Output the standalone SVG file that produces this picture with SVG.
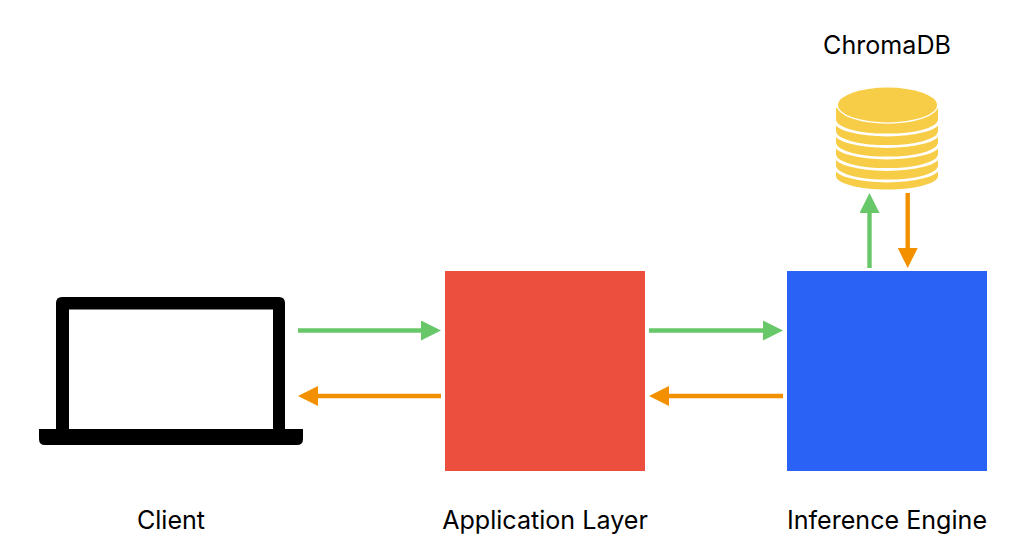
<svg xmlns="http://www.w3.org/2000/svg" width="1012" height="556" viewBox="0 0 1012 556">
<style>
text{font-family:Inter,"Liberation Sans",sans-serif;font-size:25.100px;fill:#000;text-anchor:middle}
.g{stroke:#67c769;stroke-width:4.400;fill:none}
.o{stroke:#f29000;stroke-width:4.400;fill:none}
.gold{fill:#f7cd47}
.arc{fill:none;stroke:#fff;stroke-width:2.800}
</style>
<defs>
<marker id="hg" markerUnits="userSpaceOnUse" markerWidth="20" markerHeight="20" refX="1" refY="10" orient="auto"><path d="M0 0L20 10L0 20Z" fill="#67c769"/></marker>
<marker id="ho" markerUnits="userSpaceOnUse" markerWidth="20" markerHeight="20" refX="1" refY="10" orient="auto"><path d="M0 0L20 10L0 20Z" fill="#f29000"/></marker>
</defs>
<rect width="1012" height="556" fill="#fff"/>
<g id="client">
<path fill-rule="evenodd" d="M62 297H279Q285 297 285 303V429H303V439Q303 445 297 445H45Q39 445 39 439V429H56V303Q56 297 62 297ZM69 309.500V429H273V309.500Z" fill="#000"/>
<text x="171" y="528.600">Client</text>
</g>
<g id="application-layer">
<rect x="445" y="271" width="200" height="200" fill="#ec4f3e"/>
<text x="545" y="528.600">Application Layer</text>
</g>
<g id="inference-engine">
<rect x="787" y="271" width="200" height="200" fill="#2a62f6"/>
<text x="887" y="528.600">Inference Engine</text>
</g>
<g id="chromadb">
<path class="gold" d="M836 108V176C836 183.500 859 189.500 887 189.500S938 183.500 938 176V108Z"/>
<path class="arc" d="M835 167C836 175 859 181 887 181S938 175 939 167"/>
<path class="arc" d="M835 155.500C836 163.500 859 169.500 887 169.500S938 163.500 939 155.500"/>
<path class="arc" d="M835 144C836 152 859 158 887 158S938 152 939 144"/>
<path class="arc" d="M835 132.500C836 140.500 859 146.500 887 146.500S938 140.500 939 132.500"/>
<path class="arc" d="M835 121C836 129 859 135 887 135S938 129 939 121"/>
<rect x="830" y="84" width="114" height="24" fill="#fff"/>
<ellipse cx="887.500" cy="105" rx="50.900" ry="18.800" fill="#fff"/>
<ellipse class="gold" cx="887.500" cy="105" rx="49.500" ry="17.400"/>
<text x="887" y="53.500">ChromaDB</text>
</g>
<g id="connectors">
<line class="g" x1="298" y1="330.500" x2="422" y2="330.500" marker-end="url(#hg)"/>
<line class="o" x1="441" y1="396" x2="317" y2="396" marker-end="url(#ho)"/>
<line class="g" x1="649" y1="330.500" x2="764" y2="330.500" marker-end="url(#hg)"/>
<line class="o" x1="783" y1="396" x2="668" y2="396" marker-end="url(#ho)"/>
<line class="g" x1="869.500" y1="268" x2="869.500" y2="212" marker-end="url(#hg)"/>
<line class="o" x1="907.700" y1="193" x2="907.700" y2="249" marker-end="url(#ho)"/>
</g>
</svg>
